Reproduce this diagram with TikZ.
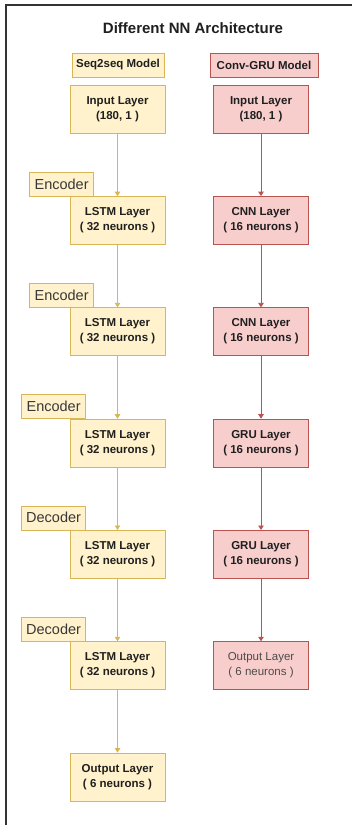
\documentclass[tikz,border=0pt]{standalone}
\usepackage{fontspec}
\setmainfont{Liberation Sans}
\usetikzlibrary{arrows.meta,positioning,calc}

\definecolor{seqfill}{HTML}{FFF2CC}
\definecolor{seqline}{HTML}{D6B656}
\definecolor{grufill}{HTML}{F8CECC}
\definecolor{gruline}{HTML}{B85450}

\begin{document}
\begin{tikzpicture}
[x=1pt,y=-1pt,
every node/.style={inner sep=0pt, align=center, text=black!88},
layer/.style={draw, minimum width=95pt, minimum height=48pt, font=\fontsize{11.5}{15}\selectfont\bfseries},
seq/.style={layer, fill=seqfill, draw=seqline},
gru/.style={layer, fill=grufill, draw=gruline},
head/.style={minimum height=24pt, font=\fontsize{11.5}{14}\selectfont\bfseries},
tag/.style={draw=seqline, fill=seqfill, minimum width=64pt, minimum height=24pt, font=\fontsize{14.5}{16}\selectfont, text=black!78},
edge/.style={-{Triangle[width=5.5pt,length=4.5pt]}, line width=0.8pt}]
%%
\useasboundingbox (0,0) rectangle (352,825);
\draw[black!80, line width=1.4pt] (6,825) -- (6,5) -- (352,5);
\node[font=\fontsize{15}{18}\selectfont\bfseries] (title) at (193,28) {Different NN Architecture};
%%
\def \dy {111.3}
%%
\begin{scope}[shift={(117.5,109)}]
\node[head, fill=seqfill, draw=seqline, minimum width=92pt] (seqhead) at (0.5,-44) {Seq2seq Model};
\node[seq] (sin) at (0,0) {Input Layer\\(180, 1 )};
\node[seq] (lstm1) at (0,\dy) {LSTM Layer\\( 32 neurons )};
\node[seq] (lstm2) at (0,2*\dy) {LSTM Layer\\( 32 neurons )};
\node[seq] (lstm3) at (0,3*\dy) {LSTM Layer\\( 32 neurons )};
\node[seq] (lstm4) at (0,4*\dy) {LSTM Layer\\( 32 neurons )};
\node[seq] (lstm5) at (0,5*\dy) {LSTM Layer\\( 32 neurons )};
\node[seq] (sout) at (0,6*\dy) {Output Layer\\( 6 neurons )};
%%
\node[tag, anchor=south east] (enc1) at ([xshift=24pt]lstm1.north west) {Encoder};
\node[tag, anchor=south east] (enc2) at ([xshift=24pt]lstm2.north west) {Encoder};
\node[tag, anchor=south east] (enc3) at ([xshift=16pt]lstm3.north west) {Encoder};
\node[tag, anchor=south east] (dec1) at ([xshift=16pt]lstm4.north west) {Decoder};
\node[tag, anchor=south east] (dec2) at ([xshift=16pt]lstm5.north west) {Decoder};
%%
\draw[edge, seqline] (sin) -- (lstm1);
\draw[edge, seqline] (lstm1) -- (lstm2);
\draw[edge, seqline] (lstm2) -- (lstm3);
\draw[edge, seqline] (lstm3) -- (lstm4);
\draw[edge, seqline] (lstm4) -- (lstm5);
\draw[edge, seqline] (lstm5) -- (sout);
\end{scope}
%%
%%
\begin{scope}[shift={(261,109)}]
\node[head, fill=grufill, draw=gruline, minimum width=108pt] (gruhead) at (3,-44) {Conv-GRU Model};
\node[gru] (gin) at (0,0) {Input Layer\\(180, 1 )};
\node[gru] (cnn1) at (0,\dy) {CNN Layer\\( 16 neurons )};
\node[gru] (cnn2) at (0,2*\dy) {CNN Layer\\( 16 neurons )};
\node[gru] (gru1) at (0,3*\dy) {GRU Layer\\( 16 neurons )};
\node[gru] (gru2) at (0,4*\dy) {GRU Layer\\( 16 neurons )};
\node[gru, font=\fontsize{11.5}{15}\selectfont, text=black!70] (gout) at (0,5*\dy) {Output Layer\\( 6 neurons )};
%%
\draw[edge, gruline] (gin) -- (cnn1);
\draw[edge, gruline] (cnn1) -- (cnn2);
\draw[edge, gruline] (cnn2) -- (gru1);
\draw[edge, gruline] (gru1) -- (gru2);
\draw[edge, gruline] (gru2) -- (gout);
\end{scope}
\end{tikzpicture}
\end{document}
